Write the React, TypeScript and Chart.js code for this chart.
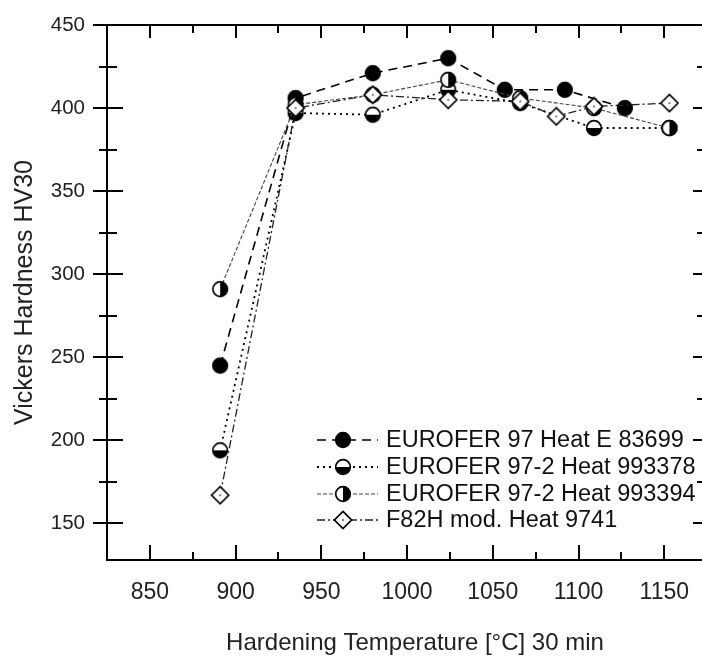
import { useEffect, useRef } from "react";
import { Chart, registerables } from "chart.js";

Chart.register(...registerables);

// ---------- data ----------
const seriesLabels = [
  "EUROFER 97 Heat E 83699",
  "EUROFER 97-2 Heat 993378",
  "EUROFER 97-2 Heat 993394",
  "F82H mod. Heat 9741",
];
const tempA = [891, 935, 980, 1024, 1057, 1092, 1127];
const hvA = [245, 406, 421, 430, 411, 411, 400];
const tempB = [891, 935, 980, 1024, 1066, 1109, 1153];
const hvB = [194, 397, 396, 411, 403, 388, 388];
const tempC = [891, 935, 980, 1024, 1066, 1109, 1153];
const hvC = [291, 402, 408, 417, 406, 400, 388];
const tempD = [891, 935, 980, 1024, 1066, 1087, 1109, 1153];
const hvD = [167, 400, 408, 405, 404, 395, 401, 403];

const xTickLabels = [850, 900, 950, 1000, 1050, 1100, 1150];
const xMinorTicks = [875, 925, 975, 1025, 1075, 1125];
const yTickLabels = [150, 200, 250, 300, 350, 400, 450];
const yMinorTicks = [175, 225, 275, 325, 375, 425];

const xTitle = "Hardening Temperature [°C] 30 min";
const yTitle = "Vickers Hardness HV30";

const FONT = "Arial, 'Liberation Sans', Helvetica, sans-serif";

type MarkerKind = "filled" | "halfH" | "halfV" | "diamond";

function makeMarker(kind: MarkerKind): HTMLCanvasElement {
  const c = document.createElement("canvas");
  c.width = 20;
  c.height = 20;
  const g = c.getContext("2d")!;
  const cx = 10, cy = 10, r = 7.3;
  g.lineWidth = 1.7;
  g.strokeStyle = "#000";
  if (kind === "diamond") {
    g.beginPath();
    g.moveTo(cx, cy - 8.6);
    g.lineTo(cx + 8.6, cy);
    g.lineTo(cx, cy + 8.6);
    g.lineTo(cx - 8.6, cy);
    g.closePath();
    g.fillStyle = "#fff";
    g.fill();
    g.stroke();
    g.fillStyle = "#000";
    g.fillRect(cx - 0.7, cy - 0.7, 1.4, 1.4);
    return c;
  }
  g.beginPath();
  g.arc(cx, cy, r, 0, Math.PI * 2);
  g.fillStyle = kind === "filled" ? "#000" : "#fff";
  g.fill();
  if (kind === "halfH") {
    g.beginPath();
    g.arc(cx, cy, r, 0, Math.PI);
    g.closePath();
    g.fillStyle = "#000";
    g.fill();
  } else if (kind === "halfV") {
    g.beginPath();
    g.arc(cx, cy, r, -Math.PI / 2, Math.PI / 2);
    g.closePath();
    g.fillStyle = "#000";
    g.fill();
  }
  g.beginPath();
  g.arc(cx, cy, r, 0, Math.PI * 2);
  g.stroke();
  return c;
}

export default function App() {
  const ref = useRef<HTMLCanvasElement | null>(null);

  useEffect(() => {
    if (!ref.current) return;
    const markerList = [
      makeMarker("filled"),
      makeMarker("halfH"),
      makeMarker("halfV"),
      makeMarker("diamond"),
    ];
    const dashes = [[9, 6], [2, 4], [4, 2], [8, 3, 2, 3]];
    const widths = [1.6, 1.8, 1.1, 1.3];
    const colors = ["#000", "#000", "#444", "#222"];

    const mk = (xs: number[], ys: number[]) => xs.map((x, i) => ({ x, y: ys[i] }));

    const datasets = [
      { label: seriesLabels[0], data: mk(tempA, hvA), order: 3 },
      { label: seriesLabels[1], data: mk(tempB, hvB), order: 4 },
      { label: seriesLabels[2], data: mk(tempC, hvC), order: 2 },
      { label: seriesLabels[3], data: mk(tempD, hvD), order: 1 },
    ].map((d, i) => ({
      ...d,
      showLine: true,
      borderColor: colors[i],
      borderWidth: widths[i],
      borderDash: dashes[i],
      backgroundColor: "#000",
      pointStyle: markerList[i],
      pointRadius: 8,
      pointHoverRadius: 8,
      tension: 0,
    }));

    const framePlugin = {
      id: "frame",
      afterDraw(chart: any) {
        const ctx = chart.ctx as CanvasRenderingContext2D;
        const { left, right, top, bottom } = chart.chartArea;
        const xs = chart.scales.x;
        const ys = chart.scales.y;
        ctx.save();
        ctx.strokeStyle = "#000";
        ctx.lineWidth = 2;
        ctx.setLineDash([]);
        ctx.beginPath();
        ctx.moveTo(left, top);
        ctx.lineTo(left, bottom);
        ctx.lineTo(right, bottom);
        ctx.moveTo(left, top);
        ctx.lineTo(right, top);
        ctx.stroke();

        ctx.beginPath();
        xTickLabels.forEach((v) => {
          const px = Math.round(xs.getPixelForValue(v));
          ctx.moveTo(px, bottom);
          ctx.lineTo(px, bottom - 15);
          ctx.moveTo(px, top);
          ctx.lineTo(px, top + 13);
        });
        xMinorTicks.forEach((v) => {
          const px = Math.round(xs.getPixelForValue(v));
          ctx.moveTo(px, bottom);
          ctx.lineTo(px, bottom - 8);
          ctx.moveTo(px, top);
          ctx.lineTo(px, top + 8);
        });
        yTickLabels.forEach((v) => {
          const py = Math.round(ys.getPixelForValue(v));
          ctx.moveTo(left - 14, py);
          ctx.lineTo(left + 16, py);
          ctx.moveTo(right, py);
          ctx.lineTo(right - 9, py);
        });
        yMinorTicks.forEach((v) => {
          const py = Math.round(ys.getPixelForValue(v));
          ctx.moveTo(left - 8, py);
          ctx.lineTo(left + 10, py);
          ctx.moveTo(right, py);
          ctx.lineTo(right - 5, py);
        });
        ctx.stroke();

        // x-axis title
        ctx.fillStyle = "#222";
        ctx.font = `24px ${FONT}`;
        ctx.textAlign = "center";
        ctx.textBaseline = "middle";
        ctx.fillText(xTitle, 415, 643);

        // legend
        const rowY = [bottom - 120, bottom - 93, bottom - 66, bottom - 40];
        const x0 = 317, x1 = 378, xm = 343, xt = 386;
        ctx.font = `23.5px ${FONT}`;
        ctx.textBaseline = "middle";
        ctx.textAlign = "left";
        seriesLabels.forEach((lab, i) => {
          const y = rowY[i];
          ctx.strokeStyle = colors[i];
          ctx.lineWidth = widths[i];
          ctx.setLineDash(dashes[i]);
          ctx.beginPath();
          ctx.moveTo(x0, y);
          ctx.lineTo(x1, y);
          ctx.stroke();
          ctx.setLineDash([]);
          const m = markerList[i];
          ctx.drawImage(m, xm - m.width / 2, y - m.height / 2);
          ctx.fillStyle = "#111";
          ctx.fillText(lab, xt, y + 1);
        });
        ctx.restore();
      },
    };

    const chart = new Chart(ref.current, {
      type: "scatter",
      data: { datasets: datasets as any },
      options: {
        animation: false,
        responsive: false,
        maintainAspectRatio: false,
        layout: { autoPadding: false, padding: { top: 25, right: 0, left: 0, bottom: 0 } },
        plugins: { legend: { display: false }, tooltip: { enabled: false } },
        scales: {
          x: {
            type: "linear",
            min: 825,
            max: 1172,
            grid: { display: false, drawTicks: false },
            border: { display: false },
            ticks: {
              font: { family: FONT, size: 23 },
              color: "#222",
              padding: 19,
              callback: (v: any) => String(v),
            },
            afterBuildTicks: (s: any) => {
              s.ticks = xTickLabels.map((v) => ({ value: v }));
            },
            afterFit: (s: any) => {
              s.height = 97;
              s.paddingLeft = 0;
              s.paddingRight = 0;
            },
            title: { display: false },
          },
          y: {
            type: "linear",
            min: 128,
            max: 450,
            grid: { display: false, drawTicks: false },
            border: { display: false },
            ticks: {
              font: { family: FONT, size: 20.5 },
              color: "#222",
              padding: 22,
              callback: (v: any) => String(v),
            },
            afterBuildTicks: (s: any) => {
              s.ticks = yTickLabels.map((v) => ({ value: v }));
            },
            afterFit: (s: any) => {
              s.width = 107;
              s.paddingTop = 0;
              s.paddingBottom = 0;
            },
            title: {
              display: true,
              text: yTitle,
              font: { family: FONT, size: 25 },
              color: "#222",
              padding: { top: 10, bottom: 0 },
            },
          },
        },
      },
      plugins: [framePlugin],
    });
    return () => chart.destroy();
  }, []);

  return (
    <div style={{ position: "fixed", left: 0, top: 0, width: 702, height: 657, background: "#fff" }}>
      <canvas ref={ref} width={702} height={657} style={{ display: "block", width: 702, height: 657 }} />
    </div>
  );
}
